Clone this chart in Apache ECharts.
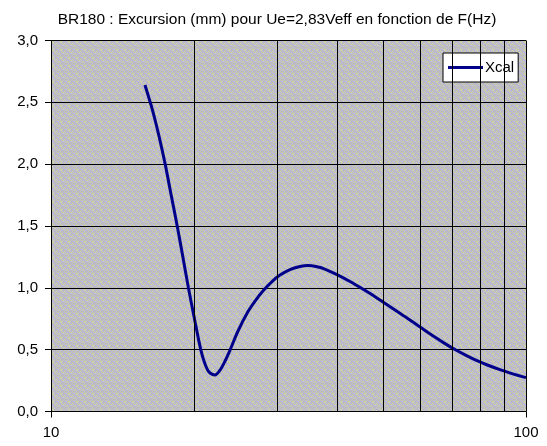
<!DOCTYPE html>
<html><head><meta charset="utf-8">
<script src="https://cdn.jsdelivr.net/npm/echarts@6/dist/echarts.min.js"></script>
<style>html,body{margin:0;padding:0;background:#fff}#c{width:547px;height:446px}</style>
</head><body><div id="c"></div>
<script>
const titleText = 'BR180 : Excursion (mm) pour Ue=2,83Veff en fonction de F(Hz)';
const seriesName = 'Xcal';
const freq = [15.77,16.08,16.42,16.88,17.38,17.89,18.45,18.96,19.47,20.05,20.66,21.10,21.51,22.14,22.69,23.25,23.82,24.76,25.99,26.89,27.99,29.19,30.35,31.85,33.43,34.75,36.13,37.93,40.21,42.61,45.15,47.86,50.73,53.77,56.99,60.49,64.03,67.53,70.88,74.78,78.86,83.18,88.16,93.43,100];
const xcal = [2.64,2.534,2.413,2.227,2.006,1.758,1.494,1.245,0.998,0.748,0.503,0.384,0.319,0.295,0.335,0.408,0.497,0.651,0.808,0.893,0.978,1.051,1.103,1.148,1.172,1.18,1.172,1.148,1.103,1.051,0.994,0.934,0.869,0.804,0.74,0.671,0.606,0.549,0.501,0.454,0.411,0.374,0.338,0.306,0.274];
const minorX = [20,30,40,50,60,70,80,90];

// dithered background pattern
const pc = document.createElement('canvas');
pc.width = 8; pc.height = 8;
const pctx = pc.getContext('2d');
const cols = ['#c0c0c0','#b4b4dc','#cfcfa8','#bdbdbd'];
for (let i=0;i<8;i++) for (let j=0;j<8;j++){ pctx.fillStyle = cols[(i*3+j*5+((i*j)%3))%4]; pctx.fillRect(i,j,1,1); }

const chart = echarts.init(document.getElementById('c'), null, {renderer:'canvas'});
chart.setOption({
  animation:false,
  title:{text:titleText,left:272,textAlign:'center',top:7,textStyle:{fontFamily:'Liberation Sans',fontSize:15.5,fontWeight:'normal',color:'#000'}},
  legend:{data:[seriesName],left:443,top:53,backgroundColor:'#fff',borderColor:'#000',borderWidth:1,padding:[7,4,7,5],
    icon:'rect',itemWidth:35,itemHeight:3,itemGap:2,textStyle:{fontFamily:'Liberation Sans',fontSize:15,color:'#000',padding:[0,0,0,-3]}},
  grid:{left:51,right:21,top:40.5,bottom:34.5,show:true,backgroundColor:{image:pc,repeat:'repeat'},borderColor:'#000',borderWidth:0},
  xAxis:{type:'log',logBase:10,min:10,max:100,
    axisLine:{lineStyle:{color:'#000',width:1}},
    axisTick:{show:true,length:6,lineStyle:{color:'#000'}},
    axisLabel:{margin:14,fontFamily:'Liberation Sans',fontSize:15,color:'#000'},
    splitLine:{show:true,lineStyle:{color:'#000',width:1}}},
  yAxis:{type:'value',min:0,max:3,interval:0.5,
    axisLine:{show:true,lineStyle:{color:'#000',width:1}},
    axisTick:{show:true,length:6,lineStyle:{color:'#000'}},
    axisLabel:{margin:13,fontFamily:'Liberation Sans',fontSize:15,color:'#000',formatter:v=>v.toFixed(1).replace('.',',')},
    splitLine:{show:true,lineStyle:{color:'#000',width:1}}},
  series:[{name:seriesName,type:'line',smooth:0.3,showSymbol:false,
    data:freq.map((f,i)=>[f,xcal[i]]),
    lineStyle:{color:'#00008b',width:3},itemStyle:{color:'#00008b'},
    markLine:{silent:true,symbol:'none',label:{show:false},lineStyle:{color:'#000',width:1,type:'solid'},
      data:minorX.map(v=>({xAxis:v}))}}]
});
</script></body></html>
